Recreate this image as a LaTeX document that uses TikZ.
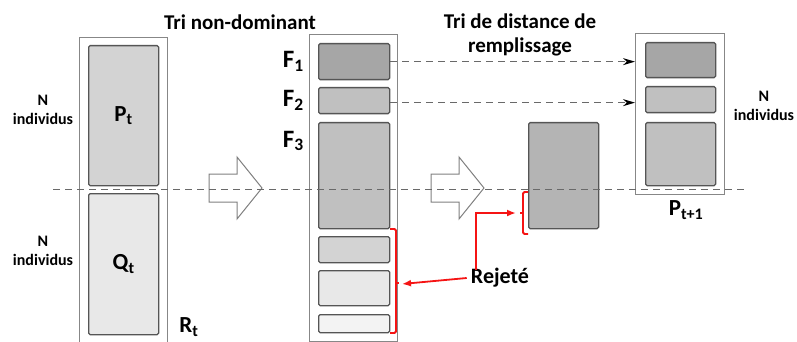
\documentclass[tikz,border=0pt]{standalone}
\usepackage{fontspec}
\setmainfont{Carlito}
\usetikzlibrary{positioning,arrows.meta,calc}
\definecolor{frameGray}{RGB}{135,135,135}
\definecolor{edgeGray}{RGB}{85,85,85}
\definecolor{dashGray}{RGB}{105,105,105}
\definecolor{grA}{RGB}{166,166,166}
\definecolor{grB}{RGB}{192,192,192}
\definecolor{grK}{RGB}{180,180,180}
\definecolor{grC}{RGB}{211,211,211}
\definecolor{grD}{RGB}{232,232,232}
\definecolor{grE}{RGB}{243,243,243}
\definecolor{rejRed}{RGB}{245,20,20}
\tikzset{
    frame/.style={draw=frameGray, line width=1.3pt, fill=white, inner sep=0pt, anchor=north west},
    block/.style={draw=edgeGray, line width=1.3pt, rounded corners=1.5pt, inner sep=0pt,
                  anchor=north west, font=\bfseries\fontsize{23}{26}\selectfont},
    title/.style={font=\bfseries\fontsize{21}{24}\selectfont, align=center, inner sep=0pt},
    count/.style={font=\bfseries\fontsize{16}{19}\selectfont, align=center, inner sep=0pt},
    flabel/.style={font=\bfseries\fontsize{25}{28}\selectfont, inner sep=0pt},
    poplabel/.style={font=\bfseries\fontsize{23}{26}\selectfont, inner sep=0pt},
    cutline/.style={dashGray, line width=1pt, dash pattern=on 7pt off 5pt},
    carry/.style={dashGray, line width=1pt, dash pattern=on 7pt off 5pt,
                  -{Stealth[length=12pt,width=7pt,black]}},
    hollow/.style={draw=gray, line width=1pt, fill=white},
    rejbrack/.style={rejRed, line width=1.8pt, rounded corners=1.5pt},
    rejarrow/.style={rejRed, line width=1.8pt, -{Latex[length=9pt,width=7pt]}}
}
\begin{document}
\begin{tikzpicture}[x=1pt, y=-1pt]
  \useasboundingbox (0,0) rectangle (797,342);

  % titles
  \node[title] (tnd) at (240,22) {Tri non-dominant};
  \node[title] (tdr) at (520,35) {Tri de distance de\\remplissage};

  % R_t = P_t + Q_t
  \node[frame, minimum width=88pt, minimum height=310pt] (lframe) at (79,37) {};
  \node[block, fill=grC, minimum width=70pt, minimum height=140pt] (pt) at (88,45) {P\textsubscript{t}};
  \node[block, fill=grD, minimum width=70pt, minimum height=141pt] (qt) at (88,193) {Q\textsubscript{t}};
  \node[count] (npt) at (43,110) {N\\individus};
  \node[count] (nqt) at (43,251) {N\\individus};
  \node[poplabel] (rt) at (189,327) {R\textsubscript{t}};

  % fronts
  \node[frame, minimum width=88pt, minimum height=307pt] (mframe) at (309,34) {};
  \node[block, fill=grA, minimum width=71pt, minimum height=36pt] (f1) at (318,43) {};
  \node[block, fill=grB, minimum width=71pt, minimum height=26pt] (f2) at (318,87) {};
  \node[block, fill=grB, minimum width=71pt, minimum height=106pt] (f3) at (318,122) {};
  \node[block, fill=grC, minimum width=71pt, minimum height=26pt] (f4) at (318,236) {};
  \node[block, fill=grD, minimum width=71pt, minimum height=35pt] (f5) at (318,270) {};
  \node[block, fill=grE, minimum width=71pt, minimum height=18pt] (f6) at (318,314) {};
  \node[flabel, left=14pt of f1.west] (lf1) {F\textsubscript{1}};
  \node[flabel, left=14pt of f2.west] (lf2) {F\textsubscript{2}};
  \node[flabel, left=14pt of f3.north west, yshift=-19pt] (lf3) {F\textsubscript{3}};

  % sorted F3
  \node[block, fill=grK, minimum width=70pt, minimum height=106pt] (kept) at (528,122) {};

  % P_{t+1}
  \node[frame, minimum width=89pt, minimum height=161pt] (rframe) at (635,33) {};
  \node[block, fill=grA, minimum width=70pt, minimum height=35pt] (n1) at (645,42) {};
  \node[block, fill=grB, minimum width=70pt, minimum height=26pt] (n2) at (645,86) {};
  \node[block, fill=grB, minimum width=70pt, minimum height=63pt] (n3) at (645,122) {};
  \node[poplabel] (pt1) at (686,210) {P\textsubscript{t+1}};
  \node[count] (nnext) at (764,106) {N\\individus};

  % hollow arrows
  \foreach \dx in {0,222}
    \draw[hollow, xshift=\dx pt] (209,174) -- (237,174) -- (237,157) -- (262,188)
      -- (237,219) -- (237,202) -- (209,202) -- cycle;

  % carried fronts
  \draw[carry] (f1.east) -- (f1.east -| rframe.west);
  \draw[carry] ([yshift=-2pt]f2.east) -- ([yshift=-2pt]f2.east -| rframe.west);

  % population cut
  \coordinate (cutL) at (53,189);
  \coordinate (cutR) at (747,189);
  \draw[cutline] (cutL) -- (cutR);

  % rejected
  \node[font=\bfseries\fontsize{22}{25}\selectfont, inner sep=0pt] (rej) at (500,278) {Rejeté};
  \draw[rejbrack] (390,229) -- (396,229) -- (396,333) -- (390,333);
  \draw[rejbrack] (396,283) -- (399,283);
  \draw[rejbrack] (528,192) -- (523,192) -- (523,234) -- (528,234);
  \draw[rejbrack] (523,213) -- (520,213);
  \coordinate (b1tip) at (402,284);
  \coordinate (b2tip) at (516,213);
  \draw[rejarrow] ([xshift=-4pt]rej.west) -- (b1tip);
  \draw[rejarrow] ([xshift=5pt,yshift=-2pt]rej.north west) |- (b2tip);
\end{tikzpicture}
\end{document}
